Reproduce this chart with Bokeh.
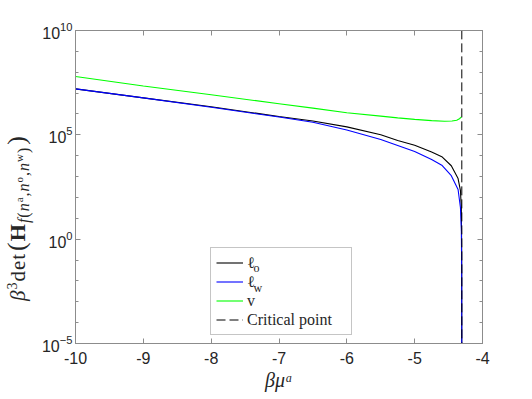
from bokeh.plotting import figure
from bokeh.layouts import row
from bokeh.models import (FixedTicker, LogAxis, LinearAxis, Legend, LegendItem,
                          Label, Range1d, Div)
from bokeh.embed import file_html
from bokeh.resources import INLINE

# ---------------- data ----------------
x_black = [-10, -9, -8, -7, -6.5, -6.0, -5.5, -5.25, -5.0, -4.75, -4.6, -4.46,
           -4.36, -4.325, -4.312, -4.307, -4.3052]
y_black = [1.6e7, 5.9e6, 2.2e6, 7.6e5, 4.6e5, 2.4e5, 1.0e5, 5.4e4, 3.2e4, 1.5e4,
           9.0e3, 3.3e3, 8.0e2, 2.1e2, 3.0e1, 3.0e-1, 1.0e-7]

x_blue = [-10, -9, -8, -7, -6.5, -6.0, -5.5, -5.25, -5.0, -4.75, -4.6, -4.46,
          -4.36, -4.325, -4.312, -4.307, -4.3052]
y_blue = [1.6e7, 5.9e6, 2.1e6, 7.1e5, 4.0e5, 1.7e5, 6.0e4, 3.1e4, 1.6e4, 6.6e3,
          3.5e3, 1.1e3, 2.4e2, 3.2e1, 3.2, 3.0e-2, 1.0e-7]

x_green = [-10, -9, -8, -7, -6.5, -6.0, -5.5, -5.25, -5.0, -4.75, -4.56, -4.45,
           -4.38, -4.34, -4.31]
y_green = [6.2e7, 2.2e7, 8.3e6, 3.1e6, 1.9e6, 1.15e6, 7.9e5, 6.5e5, 5.5e5, 4.8e5,
           4.5e5, 4.6e5, 5.0e5, 5.9e5, 7.2e5]

critical_x = -4.305
critical_y = [1e-6, 1e11]

x_ticks = [-10, -9, -8, -7, -6, -5, -4]
x_tick_labels = ["-10", "-9", "-8", "-7", "-6", "-5", "-4"]
y_major = [1e-5, 1e0, 1e5, 1e10]
y_minor = [10.0 ** k for k in range(-5, 11)]

legend_labels = ["ℓ", "ℓ", "v", "Critical point"]
legend_subs = ["o", "w"]

AX = "#8c8c8c"
TXT = "#262626"
SERIF = "Liberation Serif"

# ---------------- main plot ----------------
p = figure(width=492, height=397, x_range=Range1d(-10, -4),
           y_range=Range1d(1e-5, 1e10), y_axis_type="log",
           output_backend="svg", toolbar_location=None,
           min_border_left=34, min_border_right=48,
           min_border_top=30, min_border_bottom=54)
p.xgrid.visible = False
p.ygrid.visible = False
p.outline_line_color = AX
p.background_fill_color = "white"
p.border_fill_color = "white"


def style_axis(ax, show_labels=True):
    ax.axis_line_color = AX
    ax.major_tick_line_color = AX
    ax.minor_tick_line_color = AX
    ax.major_tick_in = 5
    ax.major_tick_out = 0
    ax.minor_tick_in = 3
    ax.minor_tick_out = 0
    ax.major_label_text_font = "Liberation Sans"
    ax.major_label_text_font_size = "16px"
    ax.major_label_text_color = TXT
    if not show_labels:
        ax.major_label_text_color = None
        ax.major_label_text_font_size = "1px"


xa = p.xaxis[0]
xa.ticker = FixedTicker(ticks=x_ticks)
xa.major_label_overrides = {t: s for t, s in zip(x_ticks, x_tick_labels)}
style_axis(xa)
xa.major_label_standoff = 8
xa.axis_label = "βμᵃ"
xa.axis_label_text_font = SERIF
xa.axis_label_text_font_style = "italic"
xa.axis_label_text_font_size = "20px"
xa.axis_label_text_color = TXT
xa.axis_label_standoff = 2

ya = p.yaxis[0]
ya.ticker = FixedTicker(ticks=y_major, minor_ticks=y_minor)
style_axis(ya)
ya.major_label_standoff = 3

top_ax = LinearAxis(ticker=FixedTicker(ticks=x_ticks))
style_axis(top_ax, show_labels=False)
p.add_layout(top_ax, "above")

right_ax = LogAxis(ticker=FixedTicker(ticks=y_major, minor_ticks=y_minor))
style_axis(right_ax, show_labels=False)
p.add_layout(right_ax, "right")

r_black = p.line(x_black, y_black, line_color="#000000", line_width=1.1)
r_blue = p.line(x_blue, y_blue, line_color="#0000ff", line_width=1.1)
r_green = p.line(x_green, y_green, line_color="#00ff00", line_width=1.1)
r_crit = p.line([critical_x, critical_x], critical_y, line_color="#000000",
                line_width=1.0, line_dash="9 4")

renderers = [r_black, r_blue, r_green, r_crit]
legend = Legend(items=[LegendItem(label=lab, renderers=[r])
                       for lab, r in zip(legend_labels, renderers)],
                location=(135, 8), orientation="vertical",
                padding=5, spacing=0, margin=0,
                glyph_width=27, glyph_height=19, label_height=19,
                label_width=99, label_standoff=4,
                label_text_font=SERIF, label_text_font_size="16px",
                label_text_color=TXT,
                border_line_color=AX, border_line_width=1,
                background_fill_color="white", background_fill_alpha=0.0)
p.add_layout(legend)

# subscripts of the first two legend entries
for sub, yy in zip(legend_subs, [76, 56]):
    p.add_layout(Label(x=178, y=yy, x_units="screen", y_units="screen",
                       text=sub, text_font=SERIF, level="overlay",
                       text_font_size="12px", text_color=TXT,
                       text_baseline="alphabetic", text_align="left"))

# ---------------- rotated y-axis label (real HTML text) ----------------
ylabel_html = (
    '<div style="position:absolute; left:5px; top:301px; '
    'transform:rotate(-90deg); transform-origin:0 0; white-space:nowrap; '
    "font-family:'Liberation Serif'; font-size:21px; line-height:26px; "
    'letter-spacing:1px; color:#262626;">'
    '<i style="line-height:0">β</i>'
    '<sup style="font-size:14px; line-height:0">3</sup>det'
    '<span style="font-size:26px; line-height:0; margin-left:2px">(</span>'
    '<b style="font-size:22px; line-height:0">H</b>'
    '<sub style="font-size:16px; line-height:0; vertical-align:-4px"><i>f</i>('
    '<i>n</i><sup style="font-size:11px">a</sup>,'
    '<i>n</i><sup style="font-size:11px">o</sup>,'
    '<i>n</i><sup style="font-size:11px">w</sup>)</sub>'
    '<span style="font-size:26px; line-height:0; margin-left:2px">)</span>'
    '</div>'
)
ylab = Div(text=ylabel_html, width=38, height=397, margin=0)

layout = row(ylab, p)
open("out.html", "w").write(file_html(layout, INLINE))
